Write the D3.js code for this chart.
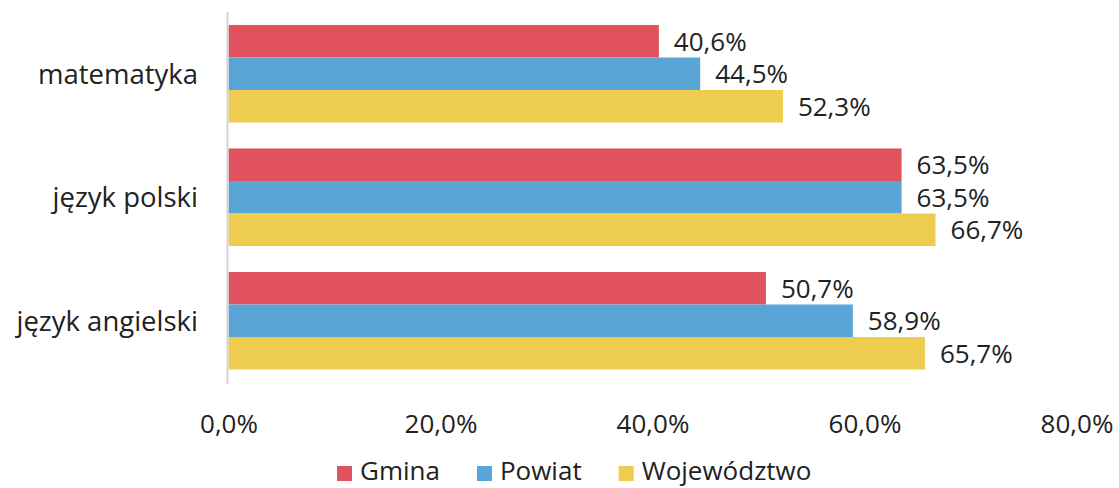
<!DOCTYPE html>
<html lang="pl">
<head>
  <meta charset="UTF-8">
  <title>Wyniki</title>
  <script src="https://cdn.jsdelivr.net/npm/d3@7"></script>
  <style>
    body { margin: 0; background: #fff; }
    svg text { font-family: "Open Sans", sans-serif; fill: #222; }
  </style>
</head>
<body>
  <svg width="1119" height="488"></svg>
  <script>
    // dane
    var subjects = ["matematyka", "język polski", "język angielski"];
    var seriesNames = ["Gmina", "Powiat", "Województwo"];
    var gmina = [40.6, 63.5, 50.7];
    var powiat = [44.5, 63.5, 58.9];
    var wojewodztwo = [52.3, 66.7, 65.7];
    var ticks = [0, 20, 40, 60, 80];
    var colors = ["#E0535E", "#5AA5D7", "#EDCC50"];

    var series = [gmina, powiat, wojewodztwo];
    var rows = [];
    subjects.forEach(function (s, i) {
      series.forEach(function (vals, j) {
        rows.push({ subject: s, name: seriesNames[j], value: vals[i] });
      });
    });

    var svg = d3.select("svg");
    var fmt = function (v) { return v.toFixed(1).replace(".", ",") + "%"; };

    var x = d3.scaleLinear().domain([0, 80]).range([228.5, 1076.5]);
    var y = d3.scaleBand().domain(subjects).range([12, 382.5])
      .paddingInner(0.21).paddingOuter(0.105);
    var y2 = d3.scaleBand().domain(seriesNames).range([0, y.bandwidth()]);
    var color = d3.scaleOrdinal().domain(seriesNames).range(colors);

    // słupki
    svg.append("g").selectAll("rect")
      .data(rows)
      .enter()
      .append("rect")
      .attr("x", x(0))
      .attr("y", function (d) { return y(d.subject) + y2(d.name); })
      .attr("width", function (d) { return x(d.value) - x(0); })
      .attr("height", y2.bandwidth())
      .attr("fill", function (d) { return color(d.name); });

    // oś pionowa
    svg.append("line")
      .attr("x1", 227.5).attr("x2", 227.5)
      .attr("y1", 12).attr("y2", 384)
      .attr("stroke", "#d4d4d4").attr("stroke-width", 2);

    // etykiety wartości
    svg.append("g").selectAll("text")
      .data(rows)
      .enter()
      .append("text")
      .attr("x", function (d) { return x(d.value) + 15; })
      .attr("y", function (d) { return y(d.subject) + y2(d.name) + y2.bandwidth() / 2; })
      .attr("dy", "0.36em")
      .attr("font-size", 26)
      .text(function (d) { return fmt(d.value); });

    // kategorie
    svg.append("g").selectAll("text")
      .data(subjects)
      .enter()
      .append("text")
      .attr("x", 198)
      .attr("y", function (d) { return y(d) + y.bandwidth() / 2; })
      .attr("dy", "0.36em")
      .attr("text-anchor", "end")
      .attr("font-size", 27.5)
      .text(function (d) { return d; });

    // oś X
    var xAxis = svg.append("g")
      .attr("transform", "translate(0,400)")
      .call(d3.axisBottom(x).tickValues(ticks).tickSize(0).tickPadding(0).tickFormat(fmt));
    xAxis.select(".domain").remove();
    xAxis.selectAll("text")
      .attr("font-size", 26)
      .attr("font-family", "Open Sans, sans-serif")
      .attr("fill", "#222")
      .attr("dy", "1.25em");

    // legenda
    var legend = svg.append("g");
    var lx = 337;
    seriesNames.forEach(function (n) {
      legend.append("rect")
        .attr("x", lx).attr("y", 466)
        .attr("width", 15).attr("height", 15)
        .attr("fill", color(n));
      var t = legend.append("text")
        .attr("x", lx + 23).attr("y", 480)
        .attr("font-size", 26)
        .text(n);
      lx += 23 + t.node().getComputedTextLength() + 37;
    });
  </script>
</body>
</html>
